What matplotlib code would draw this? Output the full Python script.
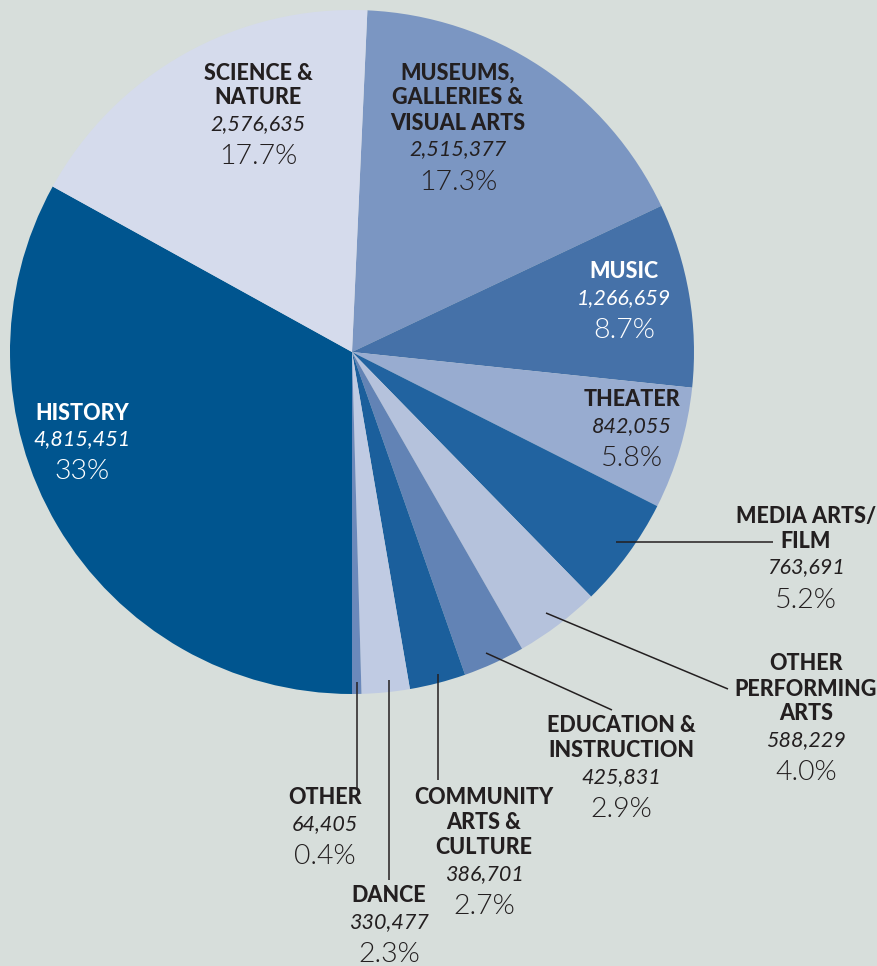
import matplotlib.pyplot as plt

W, H = 878, 966
BG = '#d7dedb'
DARK = '#231f20'

# slices in clockwise order starting just right of 12 o'clock
names = ['MUSEUMS,\nGALLERIES &\nVISUAL ARTS', 'MUSIC', 'THEATER', 'MEDIA ARTS/\nFILM',
         'OTHER\nPERFORMING\nARTS', 'EDUCATION &\nINSTRUCTION', 'COMMUNITY\nARTS &\nCULTURE',
         'DANCE', 'OTHER', 'HISTORY', 'SCIENCE &\nNATURE']
counts = [2515377, 1266659, 842055, 763691, 588229, 425831, 386701, 330477, 64405,
          4815451, 2576635]
pct_labels = ['17.3%', '8.7%', '5.8%', '5.2%', '4.0%', '2.9%', '2.7%', '2.3%', '0.4%',
              '33%', '17.7%']
colors = ['#7b96c2', '#4571a8', '#98acd0', '#2163a0', '#b5c2dc', '#6283b5', '#1b5f9c',
          '#c0cbe3', '#6b89bb', '#00558f', '#d5dbec']
text_colors = [DARK, 'white', DARK, DARK, DARK, DARK, DARK, DARK, DARK, 'white', DARK]

# label anchors in pixels (x centre, y of first line from top)
label_pos = [(458, 73), (624, 272), (632, 400), (806, 516), (806, 664), (621, 726),
             (484, 798), (389, 896), (325, 798), (82, 413), (258, 73)]

# leader lines in pixels (from top)
leaders = {
    3: [(616, 542), (773, 542)],
    4: [(546, 613), (728, 689)],
    5: [(486, 653), (612, 710)],
    6: [(438, 674), (438, 780)],
    7: [(389, 680), (389, 880)],
    8: [(357, 682), (357, 790)],
}

plt.rcParams['font.family'] = ['Lato', 'DejaVu Sans']

fig = plt.figure(figsize=(W / 100, H / 100), dpi=100, facecolor=BG)
ax = fig.add_axes([0, 0, 1, 1])

total = sum(counts)
# boundary between OTHER and HISTORY sits straight down
start = 360 * sum(counts[:9]) / total - 90
ax.pie(counts, colors=colors, startangle=start, counterclock=False,
       center=(352, H - 352), radius=342, frame=True,
       wedgeprops=dict(linewidth=0))
ax.set_xlim(0, W)
ax.set_ylim(0, H)
ax.axis('off')

for i, pts in leaders.items():
    xs = [p[0] for p in pts]
    ys = [H - p[1] for p in pts]
    ax.plot(xs, ys, color=DARK, lw=1.1, solid_capstyle='butt')

for name, cnt, pct, (x, y), tc in zip(names, counts, pct_labels, label_pos, text_colors):
    for ln in name.split('\n'):
        ax.text(x, H - y, ln, ha='center', va='center', fontsize=15.5,
                fontweight='black', color=tc)
        y += 25
    y += 1
    ax.text(x, H - y, f'{cnt:,}', ha='center', va='center', fontsize=15.5,
            fontstyle='italic', color=tc)
    y += 33
    ax.text(x, H - y, pct, ha='center', va='center', fontsize=20.5,
            fontweight=300, color=tc)

fig.savefig('out.png', dpi=100, facecolor=BG)
